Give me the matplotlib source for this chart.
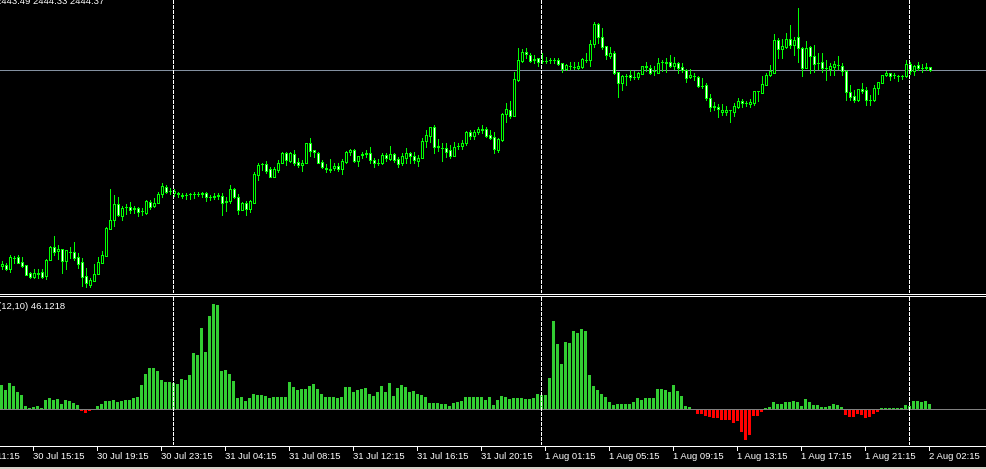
import matplotlib
matplotlib.use("Agg")
import matplotlib.pyplot as plt
from matplotlib.patches import Rectangle
import numpy as np

# ---------------- data ----------------
open_ = [2424.8,2424.9,2424.5,2425.6,2425.7,2425.2,2424.9,2424.1,2423.7,2424.1,
 2424.2,2423.8,2425.4,2426.7,2426.3,2426.5,2425.3,2426.2,2426.2,2425.7,
 2425.2,2423.8,2422.9,2423.3,2424.0,2425.1,2425.8,2428.5,2429.4,2431.0,
 2429.8,2430.7,2430.7,2430.6,2430.6,2430.3,2430.1,2431.2,2430.8,2431.1,
 2432.0,2432.7,2432.3,2432.1,2432.1,2431.9,2431.9,2432.0,2432.0,2432.0,
 2432.1,2432.1,2431.7,2431.7,2431.8,2431.8,2431.2,2431.3,2432.5,2431.7,
 2430.4,2431.1,2430.5,2431.1,2433.9,2435.0,2435.0,2434.5,2433.7,2434.4,
 2435.1,2436.1,2435.3,2436.0,2435.2,2434.9,2435.1,2437.1,2436.4,2436.1,
 2435.2,2434.6,2434.5,2434.6,2434.8,2434.5,2435.2,2436.2,2436.4,2435.3,
 2435.9,2436.0,2436.1,2435.4,2435.1,2435.1,2435.9,2435.5,2436.0,2435.5,
 2435.1,2435.6,2436.1,2435.8,2435.3,2435.6,2437.3,2437.8,2438.7,2436.7,
 2436.6,2436.6,2436.4,2435.8,2436.8,2436.8,2437.1,2438.2,2437.8,2438.2,
 2438.5,2438.5,2437.9,2437.7,2436.4,2437.4,2440.0,2440.4,2439.8,2443.4,
 2445.3,2446.2,2445.9,2445.4,2445.6,2445.3,2445.3,2445.4,2445.4,2445.4,
 2445.1,2444.5,2444.8,2444.7,2444.6,2444.7,2445.4,2445.4,2447.0,2449.0,
 2447.7,2446.8,2445.8,2446.1,2444.2,2443.1,2443.8,2443.9,2443.7,2443.7,
 2444.0,2444.8,2444.6,2444.3,2444.1,2445.2,2445.1,2445.2,2444.8,2445.1,
 2444.7,2444.4,2443.7,2443.8,2443.7,2442.8,2442.9,2441.6,2440.7,2440.7,
 2440.2,2440.2,2440.4,2440.2,2440.7,2441.3,2441.1,2441.0,2441.1,2442.3,
 2442.1,2442.9,2443.9,2444.1,2447.4,2446.5,2446.7,2447.5,2446.9,2447.7,
 2446.6,2444.6,2446.7,2445.8,2445.1,2445.2,2444.6,2444.5,2444.7,2444.9,
 2444.8,2444.3,2442.2,2441.8,2441.4,2442.5,2442.4,2441.4,2441.4,2442.6,
 2443.1,2443.9,2444.1,2443.9,2443.8,2443.8,2443.8,2445.0,2444.3,2444.9,
 2444.6,2444.6,2444.7]
high = [2425.3,2425.1,2425.9,2425.8,2425.9,2425.7,2424.9,2424.2,2424.5,2424.5,
 2424.5,2425.5,2426.8,2427.8,2426.9,2426.5,2426.4,2426.7,2427.2,2426.1,
 2425.6,2424.6,2423.6,2425.0,2425.7,2426.3,2428.7,2432.5,2431.9,2431.7,
 2430.8,2431.0,2431.2,2430.8,2430.7,2430.6,2431.4,2431.4,2431.6,2432.2,
 2433.1,2432.9,2432.6,2432.5,2432.2,2432.1,2432.1,2432.1,2432.2,2432.2,
 2432.2,2432.2,2431.9,2432.1,2432.1,2432.1,2431.7,2432.9,2432.6,2432.0,
 2431.2,2431.3,2431.4,2434.2,2435.1,2435.1,2435.3,2434.7,2434.7,2435.4,
 2436.2,2436.2,2436.2,2436.4,2435.6,2435.4,2437.1,2437.6,2436.4,2436.2,
 2435.4,2435.0,2435.5,2435.1,2435.1,2435.5,2436.3,2436.5,2436.5,2435.8,
 2436.2,2436.4,2436.7,2435.6,2435.5,2436.1,2436.1,2436.8,2436.1,2435.7,
 2436.1,2436.6,2436.2,2436.2,2435.9,2437.6,2438.4,2438.7,2438.9,2437.5,
 2437.1,2437.1,2436.9,2437.2,2437.1,2437.4,2438.3,2438.4,2438.4,2438.7,
 2438.9,2438.7,2438.4,2438.2,2437.6,2440.1,2441.1,2441.3,2444.2,2446.6,
 2446.5,2446.6,2446.1,2445.9,2445.6,2446.1,2445.7,2445.6,2445.6,2445.6,
 2445.1,2445.0,2445.2,2445.2,2445.2,2445.6,2446.1,2447.4,2449.2,2449.1,
 2448.6,2446.8,2446.7,2446.3,2444.2,2443.9,2444.0,2444.4,2444.3,2444.2,
 2444.8,2445.2,2444.9,2444.8,2445.6,2445.4,2445.6,2445.9,2445.7,2445.2,
 2445.1,2444.5,2444.5,2444.1,2443.8,2443.6,2443.1,2442.0,2441.2,2441.0,
 2441.0,2440.8,2440.4,2441.1,2441.6,2441.5,2441.3,2441.5,2442.3,2442.3,
 2443.8,2444.1,2444.9,2448.0,2447.6,2447.5,2448.1,2448.9,2447.7,2450.6,
 2446.7,2447.3,2446.8,2446.9,2446.1,2446.1,2445.4,2445.1,2445.3,2445.8,
 2445.1,2444.4,2442.9,2442.4,2442.5,2443.1,2442.7,2441.9,2442.9,2443.2,
 2443.9,2444.3,2444.1,2444.1,2443.9,2443.9,2445.4,2445.2,2444.9,2445.2,
 2445.0,2445.1,2444.7]
low = [2424.5,2424.4,2424.2,2425.1,2425.1,2424.7,2423.9,2423.6,2423.6,2423.6,
 2423.6,2423.5,2425.4,2425.9,2425.5,2424.1,2424.5,2425.6,2425.4,2424.6,
 2422.8,2422.7,2422.7,2423.3,2424.0,2425.1,2425.8,2428.5,2428.8,2429.8,
 2429.4,2430.0,2430.1,2430.1,2429.8,2429.9,2430.0,2430.5,2430.7,2431.1,
 2431.7,2432.1,2432.0,2431.8,2431.7,2431.6,2431.5,2431.5,2431.6,2431.8,
 2431.7,2431.3,2431.4,2431.5,2431.5,2429.9,2430.3,2431.1,2431.6,2430.0,
 2430.4,2429.9,2430.2,2431.1,2433.4,2434.4,2434.1,2433.7,2433.7,2434.2,
 2435.1,2434.9,2435.2,2434.9,2434.7,2434.3,2435.1,2435.8,2435.7,2435.1,
 2434.6,2434.2,2434.2,2434.4,2434.3,2434.0,2435.1,2435.9,2435.2,2434.8,
 2435.6,2435.7,2435.1,2434.7,2434.9,2435.0,2435.3,2435.4,2435.2,2434.7,
 2434.9,2435.1,2435.1,2435.1,2434.8,2435.6,2436.7,2437.2,2436.1,2436.3,
 2435.3,2435.7,2435.6,2435.8,2436.5,2436.5,2436.9,2437.5,2437.5,2438.0,
 2438.1,2437.7,2437.5,2436.1,2436.2,2437.3,2439.2,2439.6,2439.8,2443.3,
 2445.2,2445.6,2445.2,2445.1,2444.8,2445.1,2445.1,2445.1,2445.1,2444.9,
 2444.2,2444.4,2444.5,2444.5,2444.5,2444.6,2445.2,2444.8,2446.7,2447.1,
 2446.5,2445.5,2445.6,2444.0,2441.7,2442.4,2442.9,2443.4,2443.5,2443.5,
 2444.0,2444.3,2444.0,2443.9,2444.1,2444.3,2444.2,2444.7,2444.5,2444.1,
 2444.2,2443.2,2443.6,2443.4,2442.7,2442.6,2441.4,2440.3,2440.4,2439.7,
 2439.9,2439.9,2439.2,2439.8,2440.6,2440.7,2440.8,2440.7,2440.9,2441.3,
 2442.1,2442.9,2443.8,2444.1,2445.6,2445.6,2446.6,2446.6,2445.9,2445.2,
 2443.8,2444.6,2444.1,2444.2,2444.5,2444.2,2443.4,2443.9,2443.9,2444.5,
 2443.9,2441.4,2441.4,2441.2,2441.3,2442.1,2440.9,2440.9,2441.3,2442.0,
 2443.1,2443.8,2443.4,2443.6,2443.3,2443.5,2443.7,2444.0,2443.9,2444.4,
 2444.2,2444.4,2444.3]
close = [2425.0,2424.5,2425.7,2425.6,2425.1,2424.8,2423.9,2423.7,2424.1,2424.0,
 2423.7,2425.4,2426.7,2426.2,2426.5,2425.3,2426.4,2426.2,2425.6,2425.0,
 2423.7,2423.1,2423.4,2424.0,2425.2,2425.9,2428.6,2429.4,2431.0,2429.9,
 2430.6,2430.7,2430.4,2430.5,2430.2,2430.3,2431.3,2430.7,2431.1,2432.0,
 2432.8,2432.2,2432.3,2432.3,2432.0,2431.8,2431.9,2432.0,2432.0,2432.0,
 2432.0,2431.7,2431.7,2431.8,2431.9,2431.1,2431.3,2432.5,2431.7,2430.4,
 2431.1,2430.5,2431.3,2434.0,2434.9,2435.0,2434.3,2433.7,2434.5,2435.1,
 2436.1,2435.4,2436.1,2435.1,2434.9,2435.1,2437.1,2436.3,2436.2,2435.1,
 2434.7,2434.5,2434.4,2434.8,2434.5,2435.3,2436.2,2436.4,2435.3,2435.8,
 2436.0,2436.1,2435.4,2435.1,2435.1,2435.9,2435.6,2436.0,2435.4,2435.0,
 2435.8,2436.1,2435.8,2435.4,2435.6,2437.3,2437.9,2438.7,2436.7,2436.8,
 2436.6,2436.2,2435.8,2436.7,2436.8,2437.1,2438.2,2437.8,2438.2,2438.5,
 2438.4,2437.8,2437.6,2436.5,2437.5,2440.0,2440.5,2439.8,2443.5,2445.4,
 2446.2,2446.0,2445.3,2445.5,2445.2,2445.3,2445.3,2445.4,2445.4,2445.0,
 2444.5,2444.9,2444.8,2444.7,2444.8,2445.5,2445.4,2447.0,2449.0,2447.7,
 2446.7,2445.9,2446.1,2444.1,2443.1,2443.8,2443.8,2443.7,2443.7,2444.1,
 2444.8,2444.7,2444.1,2444.3,2445.1,2445.2,2445.2,2444.8,2445.1,2444.6,
 2444.4,2443.6,2443.9,2443.8,2442.8,2442.8,2441.6,2440.7,2440.8,2440.5,
 2440.4,2440.4,2440.4,2440.8,2441.3,2441.1,2441.1,2441.2,2442.3,2442.3,
 2443.0,2443.9,2444.3,2447.4,2446.5,2446.8,2447.5,2446.9,2447.4,2446.6,
 2444.6,2446.6,2445.8,2445.0,2445.1,2444.6,2444.6,2444.8,2445.0,2444.9,
 2444.3,2442.2,2441.7,2441.4,2442.5,2442.3,2441.4,2441.4,2442.6,2443.2,
 2443.9,2444.1,2443.8,2443.9,2443.8,2443.8,2445.0,2444.3,2444.8,2444.6,
 2444.6,2444.7,2444.4]

osc = [240,190,260,230,170,140,30,13,23,33,13,90,110,93,100,50,90,80,57,40,
 -20,-37,-23,-10,30,50,80,80,90,70,80,90,90,110,120,240,350,410,410,380,
 290,270,270,260,250,300,290,340,560,540,810,570,930,1050,1040,380,390,350,280,110,
 120,80,110,150,140,140,130,110,120,120,120,120,270,220,190,200,200,230,250,200,
 150,120,120,120,110,120,220,220,170,190,200,210,150,130,170,230,170,260,130,210,
 240,220,170,180,150,140,120,60,60,60,50,50,30,60,70,80,120,120,120,120,
 120,90,120,40,90,130,120,100,110,110,110,100,100,110,150,140,140,310,880,650,
 450,670,660,780,760,800,780,340,230,190,150,120,70,40,50,50,50,50,70,110,
 90,110,110,110,200,200,190,170,240,180,130,30,20,5,-50,-50,-70,-80,-90,-90,
 -110,-110,-110,-140,-120,-230,-310,-260,-70,-70,-30,10,20,70,50,50,70,70,80,70,
 30,100,70,40,40,20,20,30,50,40,20,-60,-80,-80,-50,-60,-90,-80,-50,-30,
 10,10,10,10,10,10,40,30,80,80,70,80,46]

day_start_bars = [43, 135, 227]
time_label_bars = [-8, 8, 24, 40, 56, 72, 88, 104, 120, 136, 152, 168, 184, 200, 216, 232]
time_labels = ["30 Jul 11:15", "30 Jul 15:15", "30 Jul 19:15", "30 Jul 23:15",
               "31 Jul 04:15", "31 Jul 08:15", "31 Jul 12:15", "31 Jul 16:15",
               "31 Jul 20:15", "1 Aug 01:15", "1 Aug 05:15", "1 Aug 09:15",
               "1 Aug 13:15", "1 Aug 17:15", "1 Aug 21:15", "2 Aug 02:15"]
header_text = "2443.49 2444.33 2444.37"
indicator_text = "(12,10) 46.1218"

# ---------------- figure ----------------
W, H = 987, 469
PX = 0.72  # one pixel in points at dpi 100
plt.rcParams['lines.scale_dashes'] = False
plt.rcParams['font.family'] = ['Liberation Sans', 'DejaVu Sans']
fig = plt.figure(figsize=(W / 100, H / 100), dpi=100, facecolor='black')

def add_px_axes(top, bottom):
    ax = fig.add_axes([0, 1 - bottom / H, 1, (bottom - top) / H])
    ax.set_facecolor('black')
    ax.set_axis_off()
    ax.set_xlim(-0.375, 246.375)
    return ax

GREEN = '#00ff00'
n = len(close)
idx = np.arange(n)
o = np.array(open_); c = np.array(close); h = np.array(high); l = np.array(low)

# main price window
ax = add_px_axes(0, 293)
ax.set_ylim(2422.1, 2451.4)
ax.vlines(idx, l, h, color=GREEN, lw=PX, zorder=2, antialiased=False)
bull = c > o
fills = np.where(bull, 'black', 'white')
bottoms = np.minimum(o, c)
heights = np.abs(c - o)
ax.bar(idx, heights, bottom=bottoms, width=0.5, color=list(fills),
       edgecolor=GREEN, linewidth=PX, zorder=3, antialiased=False)
ax.axhline(close[-1], color='#8390a0', lw=PX, zorder=1, antialiased=False)
for b in day_start_bars:
    ax.axvline(b - 0.25, color='white', lw=PX, dashes=(2.16, 1.44), zorder=4,
               antialiased=False)

# indicator window
ax2 = add_px_axes(297, 445)
ax2.set_ylim(-360, 1120)
vals = np.array(osc)
cols = np.where(vals >= 0, '#32cd32', '#ff0000')
ax2.bar(idx, vals, width=0.75, color=list(cols), linewidth=0, zorder=2,
        antialiased=False)
ax2.axhline(0, color='#808080', lw=PX, zorder=3, antialiased=False)
for b in day_start_bars:
    ax2.axvline(b - 0.25, color='white', lw=PX, dashes=(2.16, 1.44), zorder=4,
                antialiased=False)

# time axis
ax3 = add_px_axes(445, 469)
ax3.set_ylim(24, 0)
ax3.axhline(0.6, color='white', lw=PX, antialiased=False)
for b, lab in zip(time_label_bars, time_labels):
    ax3.plot([b - 0.25, b - 0.25], [0.6, 5], color='white', lw=PX, antialiased=False)
    ax3.text(b - 0.1, 14, lab, color='white', fontsize=6.8, ha='left', va='baseline')
ax3.add_patch(Rectangle((-1, 22), 250, 3, color='#d4d0c8', lw=0))

# pixel overlay: window borders and captions
ov = fig.add_axes([0, 0, 1, 1])
ov.set_axis_off()
ov.set_xlim(0, W)
ov.set_ylim(H, 0)
ov.patch.set_alpha(0)
ov.axhline(294.5, color='white', lw=PX, antialiased=False)
ov.axhline(296.5, color='white', lw=PX, antialiased=False)
ov.text(-4, 3.5, header_text, color='white', fontsize=6.8, ha='left', va='baseline')
ov.text(-1.5, 309, indicator_text, color='white', fontsize=6.8, ha='left', va='baseline')

fig.savefig('out.png', dpi=100, facecolor='black')
